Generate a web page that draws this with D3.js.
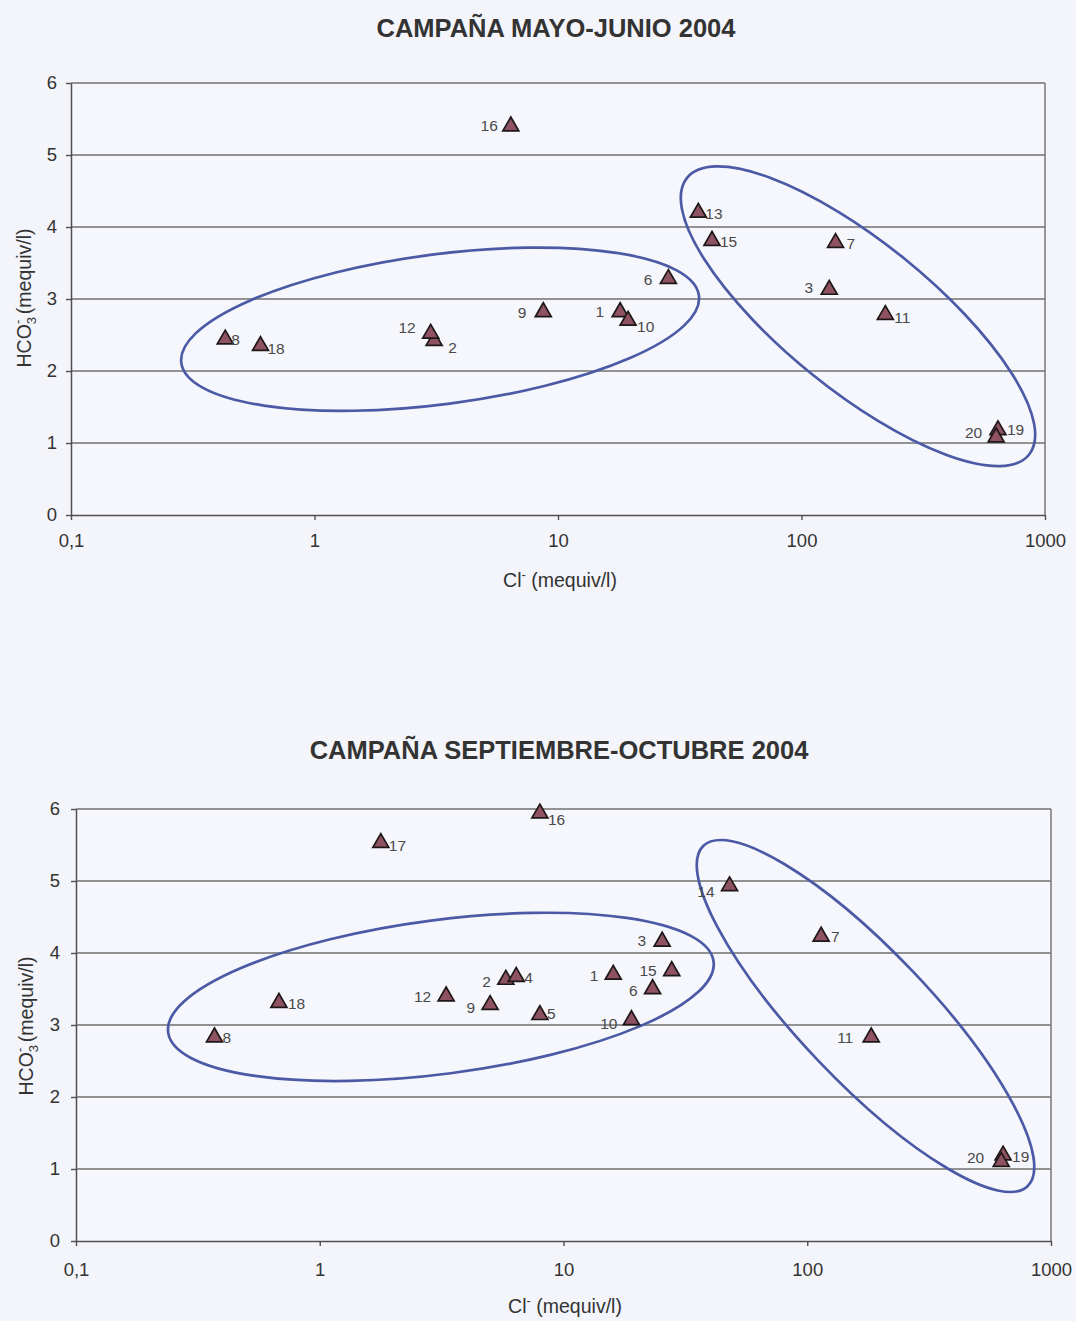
<!DOCTYPE html>
<html>
<head>
<meta charset="utf-8">
<script src="https://cdn.jsdelivr.net/npm/d3@7"></script>
<style>
  body { margin: 0; background: #f3f5fa; }
  svg { display: block; }
  text { font-family: Arial, "Liberation Sans", Helvetica, sans-serif; }
</style>
</head>
<body>
<svg id="chart" width="1076" height="1321"></svg>
<script>
// ---- Campaign May–June 2004 ----
const mayStations = ["1", "2", "3", "6", "7", "8", "9", "10", "11", "12", "13", "15", "16", "18", "19", "20"];
const mayCl   = [18.0, 3.1, 130, 28.4, 138, 0.43, 8.7, 19.4, 221, 3.0, 37.7, 42.9, 6.4, 0.60, 641, 630];
const mayHCO3 = [2.82, 2.42, 3.13, 3.28, 3.78, 2.44, 2.82, 2.70, 2.78, 2.52, 4.20, 3.81, 5.40, 2.35, 1.18, 1.08];

// ---- Campaign September–October 2004 ----
const sepStations = ["1", "2", "3", "4", "5", "6", "7", "8", "9", "10", "11", "12", "14", "15", "16", "17", "18", "19", "20"];
const sepCl   = [16.0, 5.8, 25.4, 6.4, 8.0, 23.2, 114, 0.37, 5.0, 19.0, 183, 3.3, 48, 27.8, 8.0, 1.78, 0.68, 636, 625];
const sepHCO3 = [3.70, 3.63, 4.16, 3.67, 3.14, 3.50, 4.23, 2.83, 3.28, 3.07, 2.83, 3.40, 4.93, 3.75, 5.94, 5.53, 3.31, 1.19, 1.10];

// ---- Axis ticks ----
const xTicks = [0.1, 1, 10, 100, 1000];
const xTickLabels = ["0,1", "1", "10", "100", "1000"];
const yTicks = [0, 1, 2, 3, 4, 5, 6];

// ---- Station groups (centre of each outline, in Cl / HCO3 units) ----
const mayGroupCl   = [3.28, 170.6];
const mayGroupHCO3 = [2.58, 2.76];
const sepGroupCl   = [3.14, 173.4];
const sepGroupHCO3 = [3.39, 3.125];

// Outline shapes (semi-axes in px, rotation in degrees)
const mayGroupShape = [{ rx: 261, ry: 75, angle: -7.4 }, { rx: 220, ry: 74, angle: 39 }];
const sepGroupShape = [{ rx: 275, ry: 77, angle: -7.4 }, { rx: 235, ry: 65, angle: 46.4 }];

// Label offsets per station: [dx, dy, anchor]
const mayLabelPos = {
  "16": [-13, 5, "end"], "8": [6, 6, "start"], "18": [7, 8, "start"],
  "12": [-15, -1, "end"], "2": [14, 12, "start"], "9": [-17, 6, "end"],
  "1": [-16, 5, "end"], "10": [9, 11, "start"], "6": [-16, 6, "end"],
  "13": [7, 6, "start"], "15": [8, 6, "start"], "7": [11, 6, "start"],
  "3": [-16, 3, "end"], "11": [9, 8, "start"], "20": [-14, 1, "end"],
  "19": [9, 5, "start"]
};
const sepLabelPos = {
  "17": [8, 8, "start"], "16": [8, 12, "start"], "18": [9, 6, "start"],
  "8": [8, 6, "start"], "12": [-15, 6, "end"], "9": [-15, 8, "end"],
  "2": [-15, 7, "end"], "4": [8, 6, "start"], "5": [7, 4, "start"],
  "1": [-15, 6, "end"], "15": [-15, 5, "end"], "6": [-15, 7, "end"],
  "10": [-14, 9, "end"], "3": [-16, 5, "end"], "14": [-15, 11, "end"],
  "7": [10, 6, "start"], "11": [-18, 6, "end"], "20": [-17, 1, "end"],
  "19": [9, 7, "start"]
};

const panels = [
  {
    title: "CAMPAÑA MAYO-JUNIO 2004", titleX: 556, titleY: 37,
    left: 71, right: 1045, top: 83, bottom: 515,
    xLabelDy: 33, yLabelX: 57, xTitleX: 560, xTitleY: 587, yTitleX: 31, yTitleY: 298,
    stations: mayStations, cl: mayCl, hco3: mayHCO3, labelPos: mayLabelPos,
    groupCl: mayGroupCl, groupHCO3: mayGroupHCO3, groupShape: mayGroupShape
  },
  {
    title: "CAMPAÑA SEPTIEMBRE-OCTUBRE 2004", titleX: 559, titleY: 759,
    left: 76, right: 1051, top: 809, bottom: 1241,
    xLabelDy: 36, yLabelX: 60, xTitleX: 565, xTitleY: 1313, yTitleX: 33, yTitleY: 1026,
    stations: sepStations, cl: sepCl, hco3: sepHCO3, labelPos: sepLabelPos,
    groupCl: sepGroupCl, groupHCO3: sepGroupHCO3, groupShape: sepGroupShape
  }
];

const svg = d3.select("#chart");
svg.append("rect").attr("width", 1076).attr("height", 1321).attr("fill", "#f3f5fa");

const gridColor = "#707070";
const axisColor = "#505050";
const textColor = "#333";
const triangle = d3.symbol().type(d3.symbolTriangle).size(110);

panels.forEach(p => {
  const x = d3.scaleLog().domain([0.1, 1000]).range([p.left, p.right]);
  const y = d3.scaleLinear().domain([0, 6]).range([p.bottom, p.top]);
  const g = svg.append("g");

  // Title
  g.append("text")
    .attr("x", p.titleX).attr("y", p.titleY)
    .attr("text-anchor", "middle")
    .attr("font-size", 25.5).attr("font-weight", "bold")
    .attr("fill", textColor)
    .text(p.title);

  // Plot background
  g.append("rect")
    .attr("x", p.left).attr("y", p.top)
    .attr("width", p.right - p.left).attr("height", p.bottom - p.top)
    .attr("fill", "#f5f7fc");

  // Horizontal gridlines
  g.append("g").selectAll("line")
    .data(yTicks.filter(v => v > 0))
    .join("line")
    .attr("x1", p.left).attr("x2", p.right)
    .attr("y1", d => y(d)).attr("y2", d => y(d))
    .attr("stroke", gridColor).attr("stroke-width", 1.4);

  // Right border of the plot area
  g.append("line")
    .attr("x1", p.right).attr("x2", p.right)
    .attr("y1", p.top).attr("y2", p.bottom)
    .attr("stroke", gridColor).attr("stroke-width", 1.4);

  // X axis (log scale)
  const xAxis = d3.axisBottom(x)
    .tickValues(xTicks)
    .tickFormat((d, i) => xTickLabels[i])
    .tickSizeInner(5).tickSizeOuter(0).tickPadding(p.xLabelDy - 19);
  const gx = g.append("g").attr("transform", `translate(0,${p.bottom})`).call(xAxis);
  gx.select(".domain").attr("stroke", axisColor).attr("stroke-width", 1.5);
  gx.selectAll(".tick line").attr("stroke", axisColor).attr("stroke-width", 1.4);
  gx.selectAll(".tick text")
    .attr("font-size", 18.5).attr("fill", textColor)
    .attr("font-family", "Arial, 'Liberation Sans', sans-serif");

  // Y axis
  const yAxis = d3.axisLeft(y)
    .tickValues(yTicks)
    .tickFormat(d3.format("d"))
    .tickSizeInner(5).tickSizeOuter(0).tickPadding(p.left - p.yLabelX - 5);
  const gy = g.append("g").attr("transform", `translate(${p.left},0)`).call(yAxis);
  gy.select(".domain").attr("stroke", axisColor).attr("stroke-width", 1.5);
  gy.selectAll(".tick line").attr("stroke", axisColor).attr("stroke-width", 1.4);
  gy.selectAll(".tick text")
    .attr("font-size", 18.5).attr("fill", textColor)
    .attr("font-family", "Arial, 'Liberation Sans', sans-serif");

  // X axis title: Cl⁻ (mequiv/l)
  const xt = g.append("text")
    .attr("x", p.xTitleX).attr("y", p.xTitleY)
    .attr("text-anchor", "middle")
    .attr("font-size", 19.5).attr("fill", textColor);
  xt.append("tspan").text("Cl");
  xt.append("tspan").attr("font-size", 13).attr("dy", -8).text("-");
  xt.append("tspan").attr("dy", 8).text(" (mequiv/l)");

  // Y axis title: HCO3⁻ (mequiv/l)
  const yt = g.append("text")
    .attr("transform", `translate(${p.yTitleX},${p.yTitleY}) rotate(-90)`)
    .attr("text-anchor", "middle")
    .attr("font-size", 19.5).attr("fill", textColor);
  yt.append("tspan").text("HCO");
  yt.append("tspan").attr("font-size", 13).attr("dy", 5).text("3");
  yt.append("tspan").attr("font-size", 13).attr("dx", -7).attr("dy", -14).text("-");
  yt.append("tspan").attr("dy", 9).text(" (mequiv/l)");

  // Group outlines
  const groups = p.groupCl.map((c, i) => ({ cl: c, hco3: p.groupHCO3[i], shape: p.groupShape[i] }));
  g.append("g").selectAll("ellipse")
    .data(groups)
    .join("ellipse")
    .attr("transform", d => `translate(${x(d.cl)},${y(d.hco3)}) rotate(${d.shape.angle})`)
    .attr("rx", d => d.shape.rx).attr("ry", d => d.shape.ry)
    .attr("fill", "none")
    .attr("stroke", "#4c5aa6").attr("stroke-width", 2.7);

  // Stations
  const pts = p.stations.map((s, i) => ({ id: s, cl: p.cl[i], hco3: p.hco3[i] }));
  g.append("g").selectAll("path")
    .data(pts)
    .join("path")
    .attr("d", triangle)
    .attr("transform", d => `translate(${x(d.cl)},${y(d.hco3)})`)
    .attr("fill", "#8e5262")
    .attr("stroke", "#1e1718").attr("stroke-width", 1.7)
    .attr("stroke-linejoin", "miter");

  g.append("g").selectAll("text")
    .data(pts)
    .join("text")
    .attr("x", d => x(d.cl) + p.labelPos[d.id][0])
    .attr("y", d => y(d.hco3) + p.labelPos[d.id][1])
    .attr("text-anchor", d => p.labelPos[d.id][2])
    .attr("font-size", 15.5).attr("fill", "#4a4a4a")
    .text(d => d.id);
});
</script>
</body>
</html>
